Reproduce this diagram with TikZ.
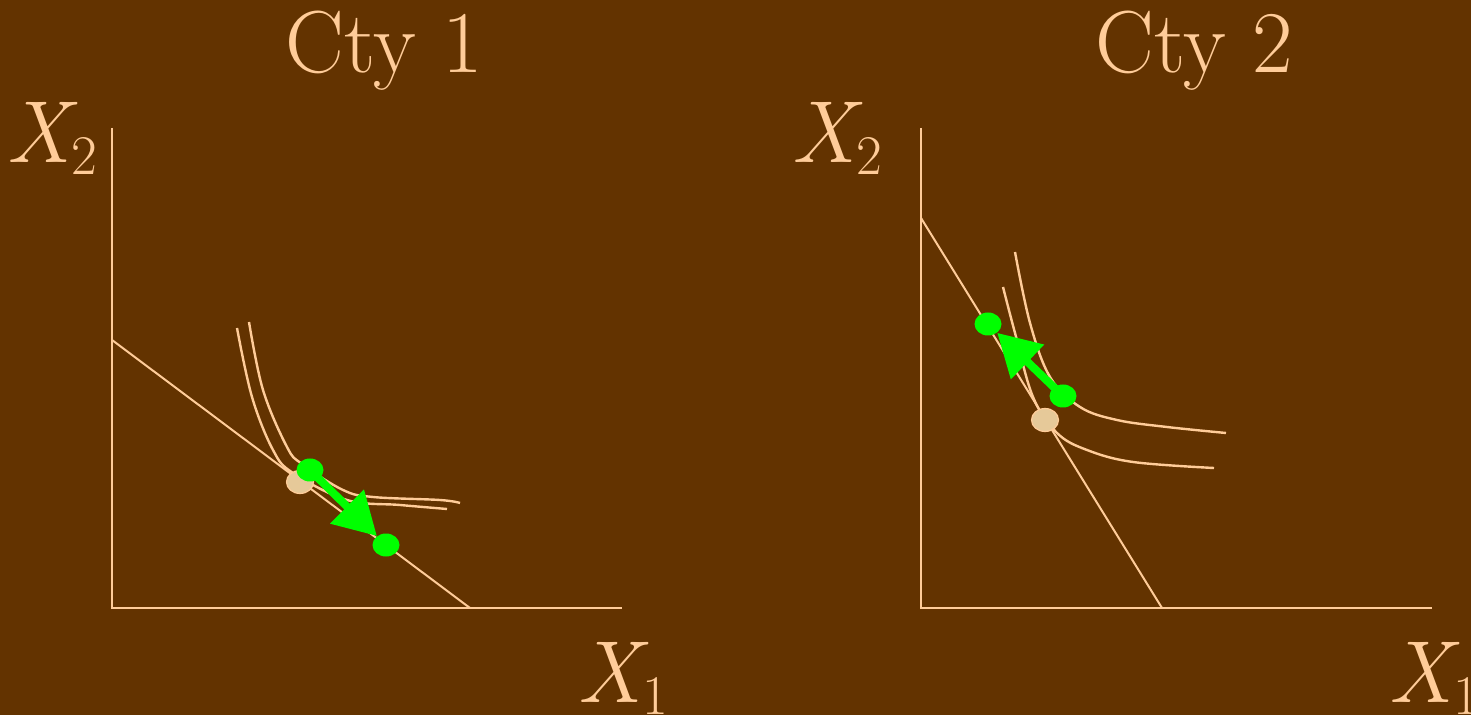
\documentclass[tikz,border=0pt]{standalone}
\usetikzlibrary{arrows.meta,shapes.geometric}
\definecolor{bgbrown}{RGB}{99,51,0}
\definecolor{peach}{RGB}{255,204,153}
\definecolor{sand}{RGB}{230,201,153}
\definecolor{brightgreen}{RGB}{0,255,0}
\newcommand{\axvar}[2]{\textit{#1}\kern-3pt\raisebox{-6pt}{\fontsize{28}{28}\selectfont #2}}

\begin{document}
\begin{tikzpicture}[x=0.5pt, y=-0.5pt,
		lbl/.style={text=peach, font=\rmfamily\fontsize{44}{54}\selectfont, inner sep=0pt, anchor=base west},
		ax/.style={draw=peach, line width=1pt},
		icurve/.style={draw=peach, line width=1.2pt},
		dot/.style={ellipse, inner sep=0pt, minimum width=13.5pt, minimum height=11.5pt},
		gdot/.style={dot, fill=brightgreen},
		tdot/.style={dot, fill=sand, draw=peach, line width=0.6pt},
		move/.style={draw=brightgreen, line width=4pt, -{Triangle[length=21pt,width=23pt]}}]
	
	% Background
	\useasboundingbox (0,0) rectangle (1471,715);
	\fill[bgbrown] (0,0) rectangle (1471,715);
	
	% Cty 1
	\node[lbl] (title1) at (285,73) {Cty 1};
	\node[lbl] (ylab1) at (6,163) {\axvar{X}{2}};
	\node[lbl] (xlab1) at (577,702) {\axvar{X}{1}};
	\coordinate (top1) at (112,128);
	\coordinate (org1) at (112,608);
	\coordinate (end1) at (622,608);
	\draw[ax] (top1) -- (org1) -- (end1);
	
	% Budget line 1
	\coordinate (ba1) at (112,340);
	\coordinate (bb1) at (470,608);
	\draw[ax] (ba1) -- (bb1);
	
	% Indifference curves 1
	\draw[icurve] plot[smooth, tension=0.6] coordinates {(249,322) (263,390) (287,447) (302,464) (343,490) (373,497) (440,500) (460,503)};
	\draw[icurve] plot[smooth, tension=0.6] coordinates {(237,328) (252,397) (273,450) (293,473) (347,500) (400,505) (447,509)};
	
	% Points 1
	\node[tdot] (old1) at (300,482) {};
	\node[gdot] (ga1) at (310,470) {};
	\node[gdot] (gb1) at (386,545) {};
	\draw[move] (ga1.center) -- (gb1);
	
	% Cty 2
	\node[lbl] (title2) at (1095,73) {Cty 2};
	\node[lbl] (ylab2) at (791,163) {\axvar{X}{2}};
	\node[lbl] (xlab2) at (1388,702) {\axvar{X}{1}};
	\coordinate (top2) at (921,128);
	\coordinate (org2) at (921,608);
	\coordinate (end2) at (1432,608);
	\draw[ax] (top2) -- (org2) -- (end2);
	
	% Budget line 2
	\coordinate (ba2) at (921,218);
	\coordinate (bb2) at (1162,608);
	\draw[ax] (ba2) -- (bb2);
	
	% Indifference curves 2
	\draw[icurve] plot[smooth, tension=0.6] coordinates {(1015,252) (1030,323) (1050,377) (1080,407) (1117,420) (1167,427) (1226,433)};
	\draw[icurve] plot[smooth, tension=0.6] coordinates {(1003,287) (1015,333) (1033,397) (1057,433) (1087,450) (1133,462) (1214,468)};
	
	% Points 2
	\node[tdot] (old2) at (1045,420) {};
	\node[gdot] (ga2) at (1063,396) {};
	\node[gdot] (gb2) at (988,324) {};
	\draw[move] (ga2.center) -- (gb2);
	
\end{tikzpicture}
\end{document}
